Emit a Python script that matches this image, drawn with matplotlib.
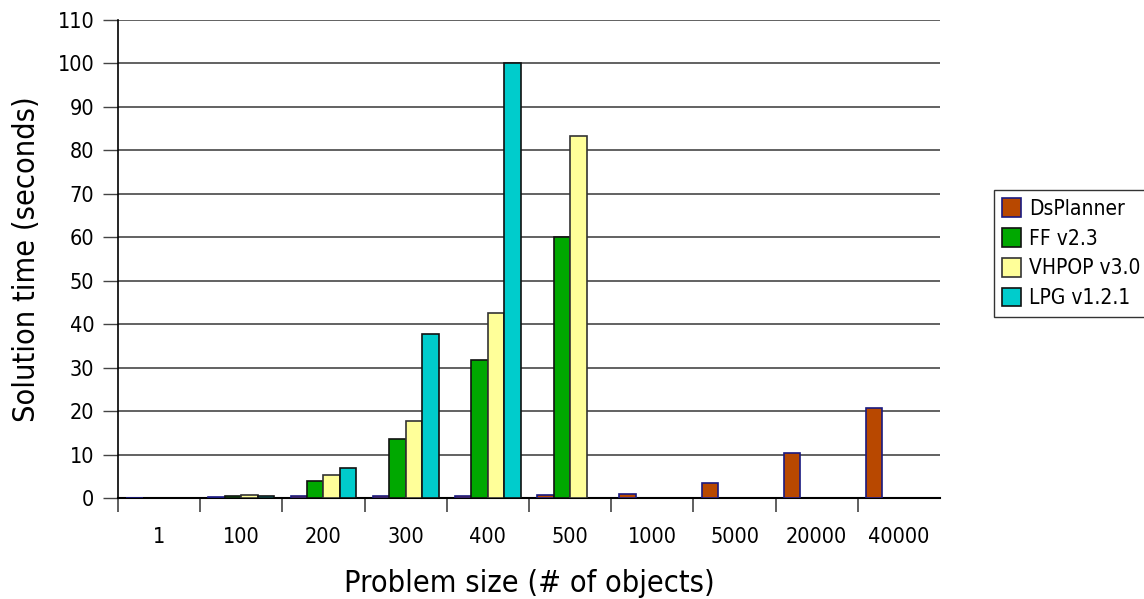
import numpy as np
import matplotlib
matplotlib.use("Agg")
import matplotlib.pyplot as plt

sizes = ["1", "100", "200", "300", "400", "500", "1000", "5000", "20000", "40000"]
series = ["DsPlanner", "FF v2.3", "VHPOP v3.0", "LPG v1.2.1"]
ds_planner = [0.05, 0.3, 0.4, 0.4, 0.5, 0.7, 0.9, 3.5, 10.4, 20.8]
ff = [0, 0.5, 3.9, 13.6, 31.8, 60.0, 0, 0, 0, 0]
vhpop = [0, 0.7, 5.3, 17.7, 42.6, 83.2, 0, 0, 0, 0]
lpg = [0, 0.4, 6.9, 37.7, 100.1, 0, 0, 0, 0, 0]
colors = ["#b84800", "#00a800", "#ffff99", "#00cccc"]
edges = ["#1a1a80", "#111111", "#333333", "#111111"]

plt.rcParams['font.family'] = ['DejaVu Sans']
plt.rcParams['font.stretch'] = 'condensed'

fig = plt.figure(figsize=(11.44, 5.99), dpi=100)
ax = fig.add_axes([0.1031, 0.1686, 0.7186, 0.798])

x = np.arange(len(sizes))
w = 0.2
for i, (vals, c, ec) in enumerate(zip([ds_planner, ff, vhpop, lpg], colors, edges)):
    vals = np.array(vals)
    mask = vals > 0
    ax.bar(x[mask] + (i - 1.5) * w, vals[mask], width=w, color=c, edgecolor=ec,
           linewidth=1.2, label=series[i], zorder=3)

ax.set_xlim(-0.5, 9.5)
ax.set_ylim(0, 110)
ax.set_yticks(np.arange(0, 111, 10))
ax.yaxis.grid(True, color="#555555", linewidth=1.3, zorder=0)
ax.set_axisbelow(True)

ax.set_xticks(np.arange(-0.5, 9, 1))
ax.set_xticklabels([])
ax.set_xticks(x, minor=True)
ax.set_xticklabels(sizes, minor=True)
ax.tick_params(axis='x', which='major', length=10, width=1.2, color="#444444")
ax.tick_params(axis='x', which='minor', length=0, pad=21, labelsize=15.5)
ax.tick_params(axis='y', length=11, width=1, labelsize=15.5, pad=6, color="#444444")

for s in ["top", "right"]:
    ax.spines[s].set_visible(False)
ax.spines["left"].set_linewidth(1.2)
ax.spines["bottom"].set_linewidth(1.5)

ax.set_ylabel("Solution time (seconds)", fontsize=22, labelpad=12)
ax.set_xlabel("Problem size (# of objects)", fontsize=22, labelpad=16)

leg = fig.legend(loc="upper left", bbox_to_anchor=(994 / 1144, 1 - 190 / 599),
                 fontsize=15, frameon=True, fancybox=False, edgecolor="black",
                 handlelength=0.9, handleheight=1.0, handletextpad=0.4,
                 borderpad=0.4, labelspacing=0.45, borderaxespad=0)
leg.get_frame().set_linewidth(1.0)

fig.savefig("out.png", dpi=100)
